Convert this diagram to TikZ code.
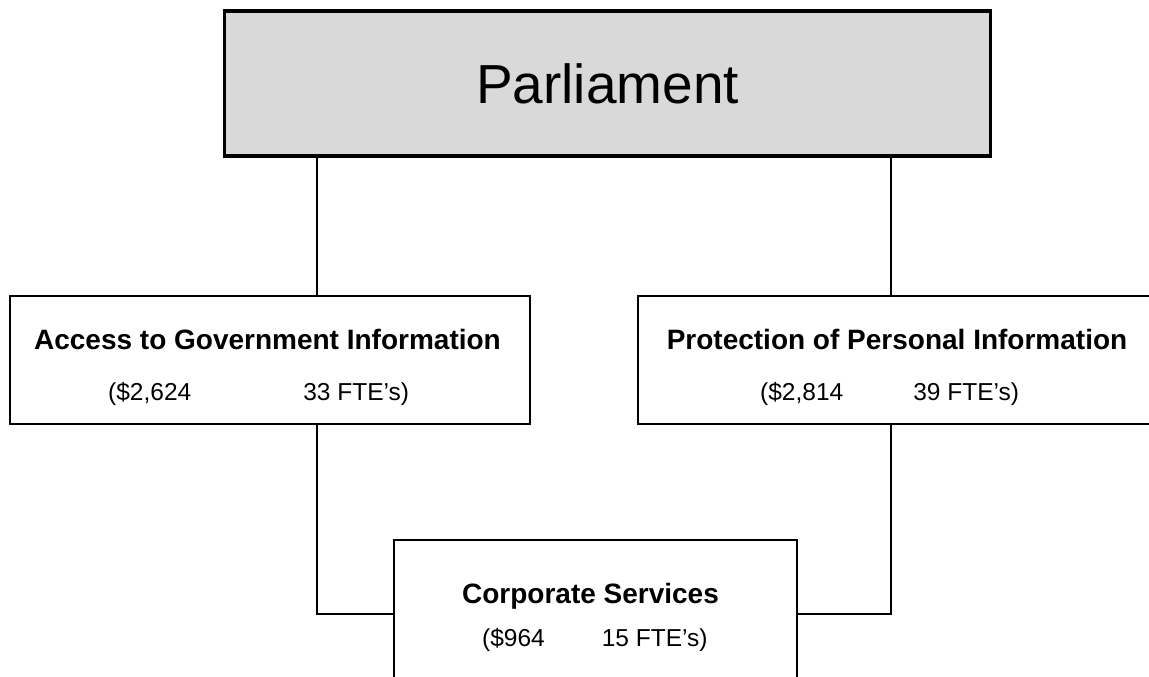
\documentclass[tikz,border=0pt]{standalone}
\usepackage{fontspec}
\setmainfont{Liberation Sans}
\usetikzlibrary{positioning}
\definecolor{ParlGrey}{RGB}{217,217,217}

\begin{document}
\begin{tikzpicture}[x=1pt,y=1pt]
  \tikzset{unit/.style={draw,line width=2pt,minimum width=520pt,minimum height=128pt,inner sep=0pt},
    head/.style={anchor=base,inner sep=0pt,font=\bfseries\fontsize{28}{32}\selectfont},
    cost/.style={anchor=base west,inner sep=0pt,font=\fontsize{24.5}{28}\selectfont},
    link/.style={line width=1.5pt}}
  \useasboundingbox (0,0) rectangle (1149,-677);
  % top of the chart
  \node[draw,line width=3.5pt,fill=ParlGrey,minimum width=766pt,minimum height=145pt,font=\fontsize{55}{60}\selectfont] (parl) at (607.5,-83.5) {Parliament};
  % program boxes
  \node[unit] (access) at (269.7,-360) {};
  \node[unit] (privacy) at (898,-360) {};
  \node[unit,minimum width=403pt,minimum height=148pt] (corp) at (595.5,-614) {};
  \node[head] (accessHead) at (267.5,-349) {Access to Government Information};
  \node[cost] (accessCost) at (108,-400) {(\$2,624\hspace{112pt}33 FTE’s)};
  \node[head] (privacyHead) at (897,-349) {Protection of Personal Information};
  \node[cost] (privacyCost) at (760,-400) {(\$2,814\hspace{70pt}39 FTE’s)};
  \node[head] (corpHead) at (590.5,-603) {Corporate Services};
  \node[cost] (corpCost) at (482,-646) {(\$964\hspace{57pt}15 FTE’s)};
  % links
  \coordinate (lt) at (317,0);
  \coordinate (rt) at (891,0);
  \draw[link] (parl.south -| lt) -- (access.north -| lt);
  \draw[link] (parl.south -| rt) -- (privacy.north -| rt);
  \draw[link] (access.south -| lt) |- (corp.west);
  \draw[link] (privacy.south -| rt) |- (corp.east);
\end{tikzpicture}
\end{document}
